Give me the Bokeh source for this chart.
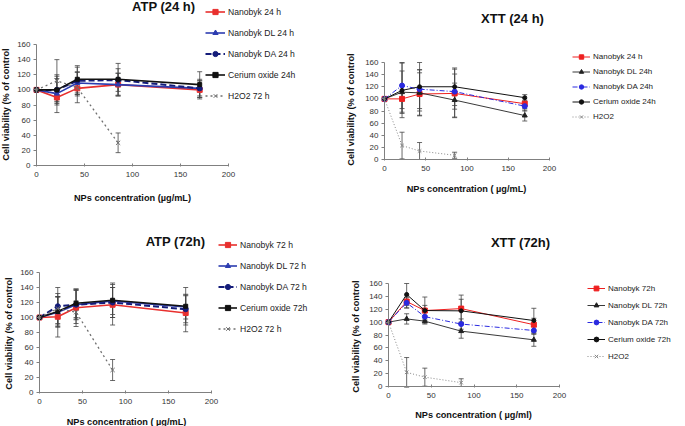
import math
from bokeh.plotting import figure
from bokeh.layouts import column, row
from bokeh.models import (ColumnDataSource, Whisker, TeeHead, Legend, LegendItem,
                          Label, FixedTicker, Range1d)
from bokeh.embed import file_html
from bokeh.resources import INLINE

FONT = "Liberation Sans"

conc = [0, 21.25, 42.5, 85, 170]
x_ticks = [0, 50, 100, 150, 200]
y_ticks = [0, 20, 40, 60, 80, 100, 120, 140, 160]
y_label = "Cell viability (% of control"

# ATP 24 h
atp24_names = ["Nanobyk 24 h", "Nanobyk DL 24 h", "Nanobyk DA 24 h", "Cerium oxide 24h", "H2O2 72 h"]
atp24_nano = [100, 90, 102, 107, 100]
atp24_nano_err = [0, 10, 10, 15, 12]
atp24_dl = [100, 95, 109, 107, 102]
atp24_dl_err = [0, 25, 15, 15, 12]
atp24_da = [100, 100, 112, 113, 102]
atp24_da_err = [0, 18, 18, 15, 10]
atp24_ceo = [100, 100, 114, 114, 107]
atp24_ceo_err = [0, 15, 18, 21, 17]
atp24_h2o2 = [100, 112, 103, 30]
atp24_h2o2_err = [0, 28, 20, 13]

# XTT 24 h
xtt24_names = ["Nanobyk 24 h", "Nanobyk DL 24h", "Nanobyk DA 24h", "Cerium oxide 24h", "H2O2"]
xtt24_nano = [100, 100, 108, 109, 92]
xtt24_nano_err = [0, 22, 35, 40, 8]
xtt24_dl = [100, 111, 110, 98, 72.5]
xtt24_dl_err = [0, 35, 38, 28, 9]
xtt24_da = [100, 122, 116, 112, 88]
xtt24_da_err = [0, 38, 32, 29, 8]
xtt24_ceo = [100, 114, 120, 120, 102]
xtt24_ceo_err = [0, 45, 40, 31, 5]
xtt24_h2o2 = [100, 23, 14, 7]
xtt24_h2o2_err = [0, 22, 14, 5]

# ATP 72 h
atp72_names = ["Nanobyk 72 h", "Nanobyk DL 72 h", "Nanobyk DA 72 h", "Cerium oxide 72h", "H2O2 72 h"]
atp72_nano = [100, 101, 113, 117, 106]
atp72_nano_err = [0, 27, 25, 27, 25]
atp72_dl = [100, 107, 117, 122, 114]
atp72_dl_err = [0, 20, 19, 18, 16]
atp72_da = [100, 115, 117, 120, 111]
atp72_da_err = [0, 25, 20, 20, 18]
atp72_ceo = [100, 108, 119, 123, 115]
atp72_ceo_err = [0, 20, 19, 23, 25]
atp72_h2o2 = [100, 112, 107, 30]
atp72_h2o2_err = [0, 20, 15, 14]

# XTT 72 h
xtt72_names = ["Nanobyk 72h", "Nanobyk DL 72h", "Nanobyk DA 72h", "Cerium oxide 72h", "H2O2"]
xtt72_nano = [100, 132, 118, 121, 96]
xtt72_nano_err = [0, 10, 8, 21, 10]
xtt72_dl = [100, 105, 101.5, 86, 72.5]
xtt72_dl_err = [0, 8, 3, 11, 10]
xtt72_da = [100, 130, 108.5, 97, 87]
xtt72_da_err = [0, 8, 6, 8, 6]
xtt72_ceo = [100, 143, 118, 117.5, 102.5]
xtt72_ceo_err = [0, 17, 21, 18, 19]
xtt72_h2o2 = [100, 22, 14.5, 6]
xtt72_h2o2_err = [0, 23, 14, 6]

ATP_STYLES = [
    dict(color="#e8302e", width=1.6, dash="solid", marker="square", size=5),
    dict(color="#2c3cb0", width=1.6, dash="solid", marker="triangle", size=5),
    dict(color="#141c7a", width=2.0, dash="6 3", marker="circle", size=5),
    dict(color="#111111", width=1.6, dash="solid", marker="square", size=4),
    dict(color="#707070", width=1.3, dash="2 3", marker="x", size=6),
]
XTT_STYLES = [
    dict(color="#ee2020", width=1.0, dash="solid", marker="square", size=5),
    dict(color="#222222", width=0.9, dash="solid", marker="triangle", size=5),
    dict(color="#2a2ae0", width=1.0, dash="5 2 1 2", marker="circle", size=5),
    dict(color="#111111", width=1.0, dash="solid", marker="circle", size=4),
    dict(color="#888888", width=1.0, dash="1 2", marker="x", size=5),
]


def panel(title, xlabel, names, ys, errs, styles, W, H, box, title_c, xlab_c, ylab_c,
          legend_tl, item_h, spacing, glyph_w, legend_fs):
    # box: left, right, top, bottom (px from the figure's top-left) of the data area
    L, R, T, B = box
    kx = (R - L) / 200.0
    ky = (B - T) / 160.0
    p = figure(width=W, height=H, output_backend="svg", toolbar_location=None,
               title=None,
               x_range=Range1d(-L / kx, 200 + (W - R) / kx),
               y_range=Range1d(-(H - B) / ky, 160 + T / ky),
               min_border_left=0, min_border_right=0, min_border_top=0,
               min_border_bottom=0)
    p.outline_line_color = None
    p.xgrid.visible = False
    p.ygrid.visible = False
    p.background_fill_color = "white"
    for ax, ticks in ((p.xaxis, x_ticks), (p.yaxis, y_ticks)):
        ax.ticker = FixedTicker(ticks=ticks)
        ax.bounds = (ticks[0], ticks[-1])
        ax.fixed_location = 0
        ax.axis_label = None
        ax.minor_tick_line_color = None
        ax.axis_line_color = "#808080"
        ax.major_tick_line_color = "#808080"
        ax.major_label_text_font = FONT
        ax.major_label_text_font_size = "8px"
        ax.major_label_text_color = "#333333"
    p.xaxis.major_tick_in = 2
    p.xaxis.major_tick_out = 1
    p.xaxis.major_label_standoff = 5
    p.yaxis.major_tick_in = 0
    p.yaxis.major_tick_out = 3
    p.yaxis.major_label_standoff = 3

    def txt(x, y, text, size, angle=0.0, color="#111111"):
        p.add_layout(Label(x=x, y=H - y, x_units="screen", y_units="screen",
                           text=text, angle=angle, text_align="center",
                           text_baseline="middle", text_font=FONT,
                           text_font_style="bold", text_font_size=size,
                           text_color=color))

    txt(title_c[0], title_c[1], title, "13px")
    txt(xlab_c[0], xlab_c[1], xlabel, "9.2px")
    txt(ylab_c[0], ylab_c[1], y_label, "9.2px", angle=math.pi / 2)

    items = []
    for name, y, e, st in zip(names, ys, errs, styles):
        xs = conc[:len(y)]
        lr = p.line(xs, y, line_color=st["color"], line_width=st["width"],
                    line_dash=st["dash"])
        sr = p.scatter(xs, y, marker=st["marker"], size=st["size"],
                       fill_color=st["color"], line_color=st["color"])
        src = ColumnDataSource(dict(
            x=xs[1:],
            lower=[v - d for v, d in zip(y[1:], e[1:])],
            upper=[v + d for v, d in zip(y[1:], e[1:])]))
        w = Whisker(base="x", lower="lower", upper="upper", source=src,
                    line_color="#444444", line_width=0.8,
                    upper_head=TeeHead(size=5, line_color="#444444", line_width=0.8),
                    lower_head=TeeHead(size=5, line_color="#444444", line_width=0.8))
        p.add_layout(w)
        items.append(LegendItem(label=name, renderers=[lr, sr]))

    n = len(items)
    leg_h = n * item_h + (n - 1) * spacing
    leg = Legend(items=items, location=(legend_tl[0], H - legend_tl[1] - leg_h),
                 padding=0, margin=0, spacing=spacing, glyph_height=item_h,
                 label_height=item_h, glyph_width=glyph_w, label_standoff=3,
                 background_fill_alpha=0, border_line_color=None,
                 label_text_font=FONT, label_text_font_size=legend_fs,
                 label_text_color="#222222")
    p.add_layout(leg)
    return p


p1 = panel("ATP  (24 h)", "NPs concentration (\u00b5g/mL)", atp24_names,
           [atp24_nano, atp24_dl, atp24_da, atp24_ceo, atp24_h2o2],
           [atp24_nano_err, atp24_dl_err, atp24_da_err, atp24_ceo_err, atp24_h2o2_err],
           ATP_STYLES, 340, 210, (36, 228, 44, 165), (165, 6), (132, 197), (5, 104),
           (205, 5), 13, 8, 20, "8.6px")
p2 = panel("XTT (24 h)", "NPs concentration ( \u00b5g/mL)", xtt24_names,
           [xtt24_nano, xtt24_dl, xtt24_da, xtt24_ceo, xtt24_h2o2],
           [xtt24_nano_err, xtt24_dl_err, xtt24_da_err, xtt24_ceo_err, xtt24_h2o2_err],
           XTT_STYLES, 345, 210, (44, 209, 62, 159), (172, 18), (126, 188), (10, 109),
           (232, 51), 11, 4, 18, "8px")
p3 = panel("ATP (72h)", "NPs concentration ( \u00b5g/mL)", atp72_names,
           [atp72_nano, atp72_dl, atp72_da, atp72_ceo, atp72_h2o2],
           [atp72_nano_err, atp72_dl_err, atp72_da_err, atp72_ceo_err, atp72_h2o2_err],
           ATP_STYLES, 340, 216, (39, 211, 62, 182), (175, 31), (126, 211), (8, 123),
           (218, 28), 13, 8, 19, "8.6px")
p4 = panel("XTT (72h)", "NPs concentration ( \u00b5g/ml)", xtt72_names,
           [xtt72_nano, xtt72_dl, xtt72_da, xtt72_ceo, xtt72_h2o2],
           [xtt72_nano_err, xtt72_dl_err, xtt72_da_err, xtt72_ceo_err, xtt72_h2o2_err],
           XTT_STYLES, 345, 216, (48, 219, 73, 176), (180, 32), (133, 204), (15, 126),
           (247, 72), 12, 5, 18, "8px")

layout = row(column(p1, p3), column(p2, p4))
open("out.html", "w").write(file_html(layout, INLINE))
